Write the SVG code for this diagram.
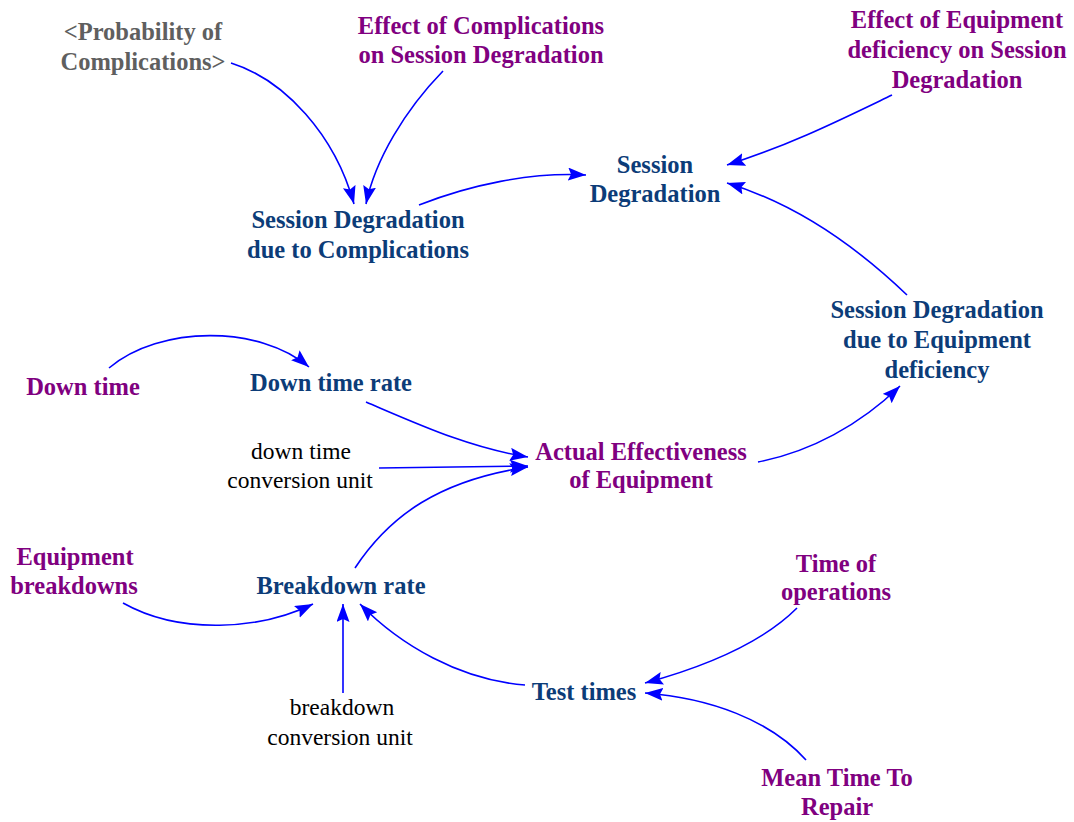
<svg xmlns="http://www.w3.org/2000/svg" width="1074" height="822" viewBox="0 0 1074 822">
<style>
text{font-family:"Liberation Serif","Times New Roman",serif;font-size:23.5px;text-anchor:middle}
.b{font-weight:bold;font-size:24.5px}
.blue{fill:#0c3c78}
.pur{fill:#800080}
.gray{fill:#5f5f5f}
.blk{fill:#000}
.c{fill:none;stroke:#0000ff;stroke-width:1.6;marker-end:url(#ah)}
</style>
<defs>
<marker id="ah" markerUnits="userSpaceOnUse" markerWidth="19" markerHeight="14" refX="18" refY="6.5" orient="auto" viewBox="0 0 19 14">
<path d="M0,0 L18,6.5 L0,13 L3,6.5 Z" fill="#0000ff"/>
</marker>
</defs>
<rect width="1074" height="822" fill="#fff"/>
<g id="connectors">
<path class="c" d="M231,63 C285,80 335,135 354,204"/>
<path class="c" d="M443,71 C405,110 375,160 366,204"/>
<path class="c" d="M419,205 C470,185 530,172 586,175"/>
<path class="c" d="M892,95 C840,120 790,145 727,165"/>
<path class="c" d="M907,295 C860,250 800,205 727,183"/>
<path class="c" d="M758,462 C810,452 860,425 900,386"/>
<path class="c" d="M109,368 C160,325 260,325 309,367"/>
<path class="c" d="M366,402 C420,425 470,448 528,457"/>
<path class="c" d="M379,468 L528,466"/>
<path class="c" d="M355,568 C390,515 440,480 528,467"/>
<path class="c" d="M123,603 C180,635 260,630 313,604"/>
<path class="c" d="M343,693 L343,604"/>
<path class="c" d="M525,685 C460,680 400,645 360,604"/>
<path class="c" d="M797,608 C760,645 700,668 645,683"/>
<path class="c" d="M806,760 C770,720 710,698 645,693"/>
</g>
<g id="prob-complications"><text class="b gray" x="143" y="40">&lt;Probability of</text><text class="b gray" x="143" y="70">Complications&gt;</text></g>
<g id="effect-complications"><text class="b pur" x="481" y="34">Effect of Complications</text><text class="b pur" x="481" y="63">on Session Degradation</text></g>
<g id="effect-equipment"><text class="b pur" x="957" y="28">Effect of Equipment</text><text class="b pur" x="957" y="58">deficiency on Session</text><text class="b pur" x="957" y="88">Degradation</text></g>
<g id="session-degradation"><text class="b blue" x="655" y="173">Session</text><text class="b blue" x="655" y="202">Degradation</text></g>
<g id="sd-complications"><text class="b blue" x="358" y="228">Session Degradation</text><text class="b blue" x="358" y="258">due to Complications</text></g>
<g id="sd-equipment"><text class="b blue" x="937" y="318">Session Degradation</text><text class="b blue" x="937" y="348">due to Equipment</text><text class="b blue" x="937" y="378">deficiency</text></g>
<g id="down-time"><text class="b pur" x="83" y="395">Down time</text></g>
<g id="down-time-rate"><text class="b blue" x="331" y="391">Down time rate</text></g>
<g id="down-time-conv"><text class="blk" x="301" y="459">down time</text><text class="blk" x="300" y="488">conversion unit</text></g>
<g id="actual-effectiveness"><text class="b pur" x="641" y="460">Actual Effectiveness</text><text class="b pur" x="641" y="488">of Equipment</text></g>
<g id="equipment-breakdowns"><text class="b pur" x="75" y="565">Equipment</text><text class="b pur" x="74" y="594">breakdowns</text></g>
<g id="breakdown-rate"><text class="b blue" x="341" y="594">Breakdown rate</text></g>
<g id="time-of-operations"><text class="b pur" x="836" y="572">Time of</text><text class="b pur" x="836" y="600">operations</text></g>
<g id="test-times"><text class="b blue" x="584" y="700">Test times</text></g>
<g id="breakdown-conv"><text class="blk" x="342" y="715">breakdown</text><text class="blk" x="340" y="745">conversion unit</text></g>
<g id="mttr"><text class="b pur" x="837" y="786">Mean Time To</text><text class="b pur" x="837" y="815">Repair</text></g>
</svg>
